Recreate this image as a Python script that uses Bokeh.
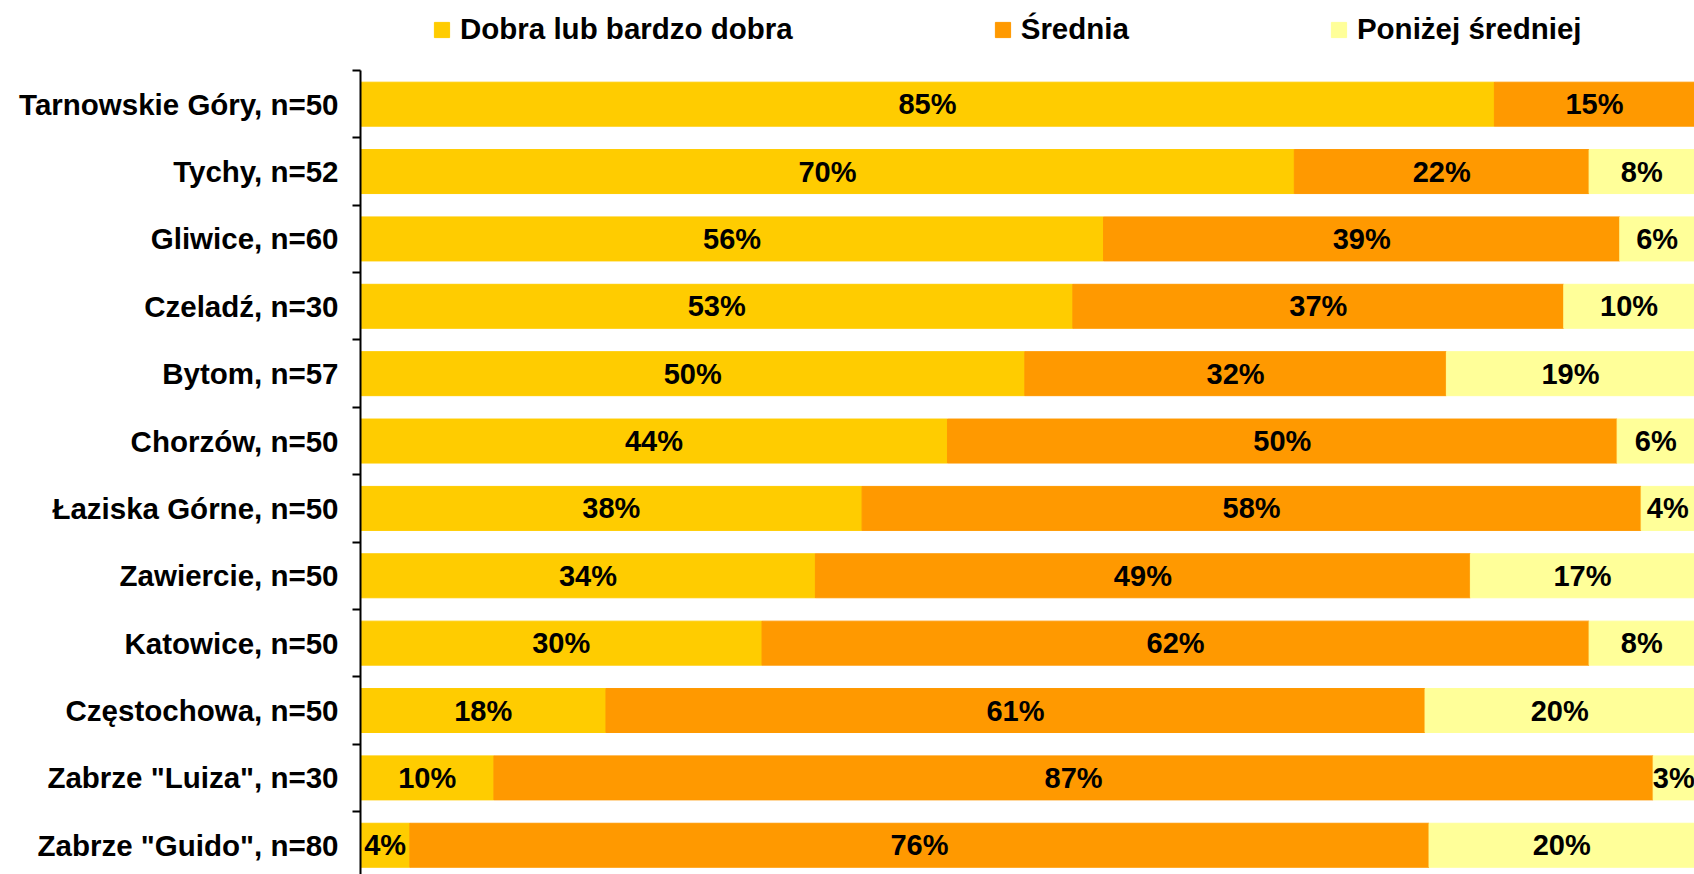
from bokeh.plotting import figure
from bokeh.models import ColumnDataSource, FixedTicker, Range1d
from bokeh.embed import file_html
from bokeh.resources import INLINE
from bokeh.core.properties import value

categories = ['Tarnowskie Góry, n=50', 'Tychy, n=52', 'Gliwice, n=60', 'Czeladź, n=30',
              'Bytom, n=57', 'Chorzów, n=50', 'Łaziska Górne, n=50', 'Zawiercie, n=50',
              'Katowice, n=50', 'Częstochowa, n=50', 'Zabrze "Luiza", n=30', 'Zabrze "Guido", n=80']
series_names = ['Dobra lub bardzo dobra', 'Średnia', 'Poniżej średniej']
dobra = [85.0, 70.0, 55.7, 53.4, 49.8, 44.0, 37.6, 34.1, 30.1, 18.4, 10.0, 3.7]
srednia = [15.0, 22.1, 38.7, 36.8, 31.6, 50.2, 58.4, 49.1, 62.0, 61.4, 86.9, 76.4]
ponizej = [0.0, 7.9, 5.6, 9.8, 18.6, 5.8, 4.0, 16.8, 7.9, 20.2, 3.1, 19.9]
colors = ['#FFCC00', '#FF9900', '#FFFF99']

FONT = "Liberation Sans"
n = len(categories)
ys = list(range(n))

src = ColumnDataSource(dict(y=ys, dobra=dobra, srednia=srednia, ponizej=ponizej))

# label positions (centre of each segment)
lx, ly, lt = [], [], []
for i in range(n):
    left = 0.0
    for vals in (dobra, srednia, ponizej):
        v = vals[i]
        if v > 0:
            lx.append(left + v / 2.0)
            ly.append(i)
            lt.append(f"{v:.0f}%")
        left += v
lsrc = ColumnDataSource(dict(x=lx, y=ly, text=lt))

pitch = 67.37       # px per category band
top_gap = 70        # px above first band (legend area)
H = 874
W = 1694
y_top = -0.5 - top_gap / pitch
y_bottom = y_top + H / pitch

p = figure(width=W, height=H, output_backend="svg", toolbar_location=None,
           x_range=Range1d(0, 100), y_range=Range1d(y_bottom, y_top),
           min_border_left=360, min_border_right=0, min_border_top=0,
           min_border_bottom=0)
p.outline_line_color = None
p.grid.visible = False
p.xaxis.visible = False

p.hbar_stack(['dobra', 'srednia', 'ponizej'], y='y', height=0.653, color=colors,
             source=src, legend_label=series_names)

p.text(x='x', y='y', text='text', source=lsrc, text_align="center", text_baseline="middle",
       text_font=value(FONT), text_font_style="bold", text_font_size="29px", text_color="black")

ya = p.yaxis[0]
ya.bounds = (-0.5, y_bottom)
ya.ticker = FixedTicker(ticks=ys, minor_ticks=[i - 0.5 for i in range(n + 1)])
ya.major_label_overrides = {i: c for i, c in enumerate(categories)}
ya.major_tick_out = 0
ya.major_tick_in = 0
ya.minor_tick_out = 8
ya.minor_tick_in = 0
ya.minor_tick_line_color = "black"
ya.minor_tick_line_width = 2
ya.axis_line_color = "black"
ya.axis_line_width = 2
ya.major_label_standoff = 14
ya.major_label_text_font = FONT
ya.major_label_text_font_style = "bold"
ya.major_label_text_font_size = "29.5px"
ya.major_label_text_color = "black"

lg = p.legend[0]
lg.orientation = "horizontal"
lg.location = (72, H - 46)
lg.background_fill_alpha = 0
lg.border_line_color = None
lg.padding = 0
lg.margin = 0
lg.spacing = 200
lg.glyph_width = 19
lg.glyph_height = 19
lg.label_standoff = 9
lg.label_text_font = FONT
lg.label_text_font_style = "bold"
lg.label_text_font_size = "29.5px"
lg.label_text_color = "black"

open("out.html", "w").write(file_html(p, INLINE))
